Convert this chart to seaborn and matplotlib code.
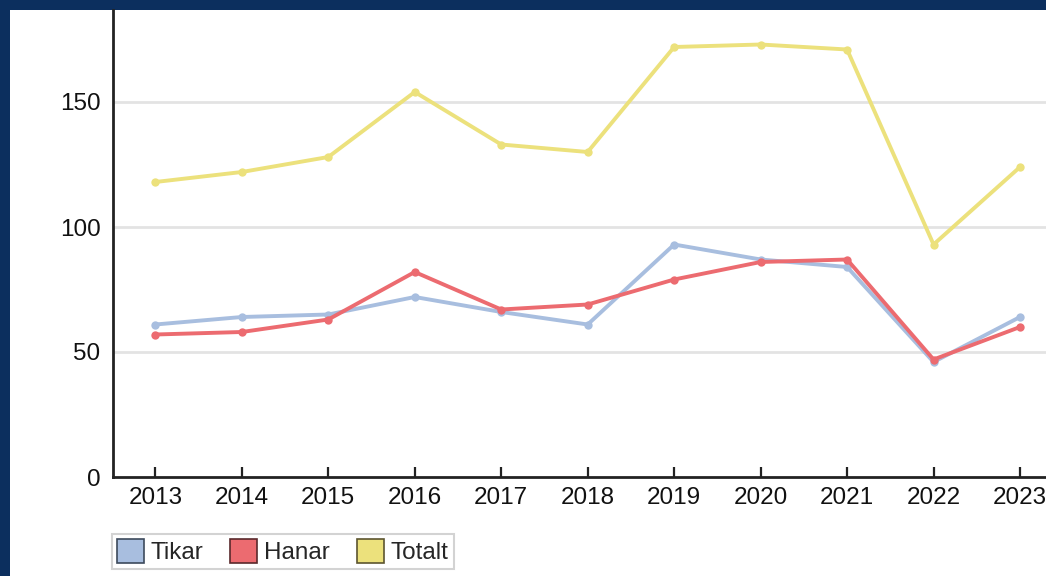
import matplotlib
matplotlib.use("Agg")
import matplotlib.pyplot as plt
import seaborn as sns
import pandas as pd
from matplotlib.patches import Patch, Rectangle

years = [2013, 2014, 2015, 2016, 2017, 2018, 2019, 2020, 2021, 2022, 2023]
tikar = [61, 64, 65, 72, 66, 61, 93, 87, 84, 46, 64]
hanar = [57, 58, 63, 82, 67, 69, 79, 86, 87, 47, 60]
totalt = [118, 122, 128, 154, 133, 130, 172, 173, 171, 93, 124]
series_names = ["Tikar", "Hanar", "Totalt"]
colors = {"Tikar": "#a8bedf", "Hanar": "#ec6b70", "Totalt": "#ece17c"}
edge_colors = {"Tikar": "#3d4a5c", "Hanar": "#5a2a2c", "Totalt": "#5c5530"}
y_ticks = [0, 50, 100, 150]

df = pd.DataFrame({
    "year": years * 3,
    "value": tikar + hanar + totalt,
    "series": ["Tikar"] * len(years) + ["Hanar"] * len(years) + ["Totalt"] * len(years),
})

sns.set_theme(style="white")
plt.rcParams["font.family"] = ["Liberation Sans", "DejaVu Sans"]

W, H = 1046, 576
fig = plt.figure(figsize=(W / 100, H / 100), dpi=100)
fig.patch.set_facecolor("#0c2f5e")
fig.patches.append(Rectangle((10 / W, 0), 1 - 10 / W, 1 - 10 / H, transform=fig.transFigure,
                             facecolor="white", edgecolor="none", zorder=-5))

ax = fig.add_axes([113 / W, 1 - 477 / H, 1 - 113 / W, (477 - 10) / H])
ax.set_facecolor("none")

sns.lineplot(data=df, x="year", y="value", hue="series", hue_order=series_names,
             palette=colors, marker="o", markersize=6, markeredgewidth=0,
             linewidth=2.8, ax=ax, legend=False)

ax.set_xlim(2012.51, 2023 + 26 / 86.5)
ax.set_ylim(0, 467 / 2.5)
ax.set_xticks(years)
ax.set_xticklabels([str(y) for y in years])
ax.set_yticks(y_ticks)
ax.set_xlabel("")
ax.set_ylabel("")
for v in y_ticks[1:]:
    ax.axhline(v, color="#e3e3e3", linewidth=2, zorder=0)

for s in ["top", "right"]:
    ax.spines[s].set_visible(False)
for s in ["left", "bottom"]:
    ax.spines[s].set_color("#222222")
    ax.spines[s].set_linewidth(2)

ax.tick_params(axis="x", bottom=True, direction="in", length=7, width=1.6, color="#222222",
               labelsize=17.5, labelcolor="#111111", pad=7)
ax.tick_params(axis="y", left=False, length=0, labelsize=17.5, labelcolor="#111111", pad=9)

handles = [Patch(facecolor=colors[n], edgecolor=edge_colors[n], linewidth=1.2, label=n)
           for n in series_names]
leg = fig.legend(handles=handles, loc="lower left", bbox_to_anchor=(112 / W, 7 / H),
                 ncol=3, frameon=True, fontsize=17.5, handlelength=1.1, handleheight=1.1,
                 handletextpad=0.3, columnspacing=1.1, borderpad=0.2, borderaxespad=0,
                 fancybox=False)
leg.get_frame().set_edgecolor("#c8c8c8")
leg.get_frame().set_linewidth(1.5)

fig.savefig("out.png", dpi=100, facecolor=fig.get_facecolor())
